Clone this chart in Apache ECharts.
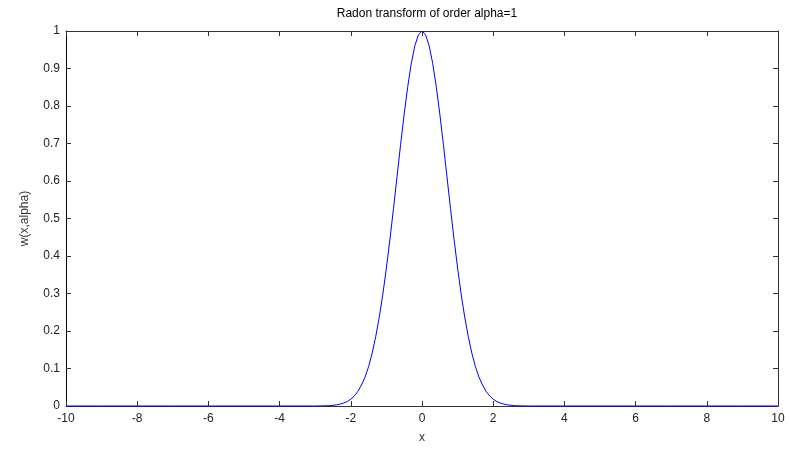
<!DOCTYPE html>
<html>
<head>
<meta charset="utf-8">
<script src="https://cdn.jsdelivr.net/npm/echarts@6/dist/echarts.min.js"></script>
<style>html,body{margin:0;padding:0;background:#fff;}#c{width:791px;height:449px;}</style>
</head>
<body>
<div id="c"></div>
<script>
// Curve samples
var xs = [-10, -9, -8, -7, -6, -5, -4, -3, -2.7, -2.6, -2.5, -2.4, -2.3, -2.2, -2.1, -2.0, -1.9, -1.8, -1.7, -1.6, -1.5, -1.4, -1.3, -1.2, -1.1, -1.0, -0.9, -0.8, -0.7, -0.6, -0.5, -0.4, -0.3, -0.2, -0.1, 0,
          0.1, 0.2, 0.3, 0.4, 0.5, 0.6, 0.7, 0.8, 0.9, 1.0, 1.1, 1.2, 1.3, 1.4, 1.5, 1.6, 1.7, 1.8, 1.9, 2.0, 2.1, 2.2, 2.3, 2.4, 2.5, 2.6, 2.7, 3, 4, 5, 6, 7, 8, 9, 10];
var ys = [0, 0, 0, 0, 0, 0, 0, 0, 0.0005, 0.001, 0.002, 0.003, 0.005, 0.008, 0.012, 0.018, 0.027, 0.039, 0.056, 0.077, 0.105, 0.141, 0.185, 0.237, 0.298, 0.368, 0.445, 0.527, 0.613, 0.698, 0.779, 0.852, 0.914, 0.961, 0.990, 1.0,
          0.990, 0.961, 0.914, 0.852, 0.779, 0.698, 0.613, 0.527, 0.445, 0.368, 0.298, 0.237, 0.185, 0.141, 0.105, 0.077, 0.056, 0.039, 0.027, 0.018, 0.012, 0.008, 0.005, 0.003, 0.002, 0.001, 0.0005, 0, 0, 0, 0, 0, 0, 0, 0];
var xTicks = [-10, 10, 2];   // min, max, step
var yTicks = [0, 1, 0.1];
var titleText = 'Radon transform of order alpha=1';
var xName = 'x';
var yName = 'w(x,alpha)';

var pts = xs.map(function (x, i) { return [x, ys[i]]; });
var font = 'Liberation Sans, Arial, sans-serif';
var axCol = '#333';
function fmtY(v) { return String(Math.round(v * 10) / 10); }

var chart = echarts.init(document.getElementById('c'), null, { renderer: 'canvas' });
chart.setOption({
  animation: false,
  backgroundColor: '#fff',
  title: { text: titleText, left: 422, top: 3, textAlign: 'center',
    textStyle: { fontFamily: font, fontSize: 12, fontWeight: 'normal', color: '#000' } },
  grid: { left: 66, right: 13, top: 31, bottom: 39, containLabel: false },
  xAxis: [
    { type: 'value', min: xTicks[0], max: xTicks[1], interval: xTicks[2], position: 'bottom',
      name: xName, nameLocation: 'middle', nameGap: 26,
      nameTextStyle: { fontFamily: font, fontSize: 12, color: '#333' },
      axisLine: { show: true, onZero: false, lineStyle: { color: axCol, width: 1 } },
      axisTick: { show: true, inside: true, length: 5, lineStyle: { color: axCol } },
      axisLabel: { fontFamily: font, fontSize: 12, color: '#222', margin: 7 },
      splitLine: { show: false } },
    { type: 'value', min: xTicks[0], max: xTicks[1], interval: xTicks[2], position: 'top',
      axisLine: { show: true, onZero: false, lineStyle: { color: axCol, width: 1 } },
      axisTick: { show: true, inside: true, length: 5, lineStyle: { color: axCol } },
      axisLabel: { show: false }, splitLine: { show: false } }
  ],
  yAxis: [
    { type: 'value', min: yTicks[0], max: yTicks[1], interval: yTicks[2], position: 'left',
      name: yName, nameLocation: 'middle', nameGap: 35, nameRotate: 90,
      nameTextStyle: { fontFamily: font, fontSize: 12, color: '#333' },
      axisLine: { show: true, onZero: false, lineStyle: { color: '#000', width: 1 } },
      axisTick: { show: true, inside: true, length: 5, lineStyle: { color: axCol } },
      axisLabel: { fontFamily: font, fontSize: 12, color: '#222', margin: 6, formatter: fmtY },
      splitLine: { show: false } },
    { type: 'value', min: yTicks[0], max: yTicks[1], interval: yTicks[2], position: 'right',
      axisLine: { show: true, onZero: false, lineStyle: { color: axCol, width: 1 } },
      axisTick: { show: true, inside: true, length: 5, lineStyle: { color: axCol } },
      axisLabel: { show: false }, splitLine: { show: false } }
  ],
  series: [{
    type: 'line', xAxisIndex: 0, yAxisIndex: 0, data: pts,
    showSymbol: false, symbol: 'none', clip: false, z: 10,
    lineStyle: { color: '#0000ff', width: 1 }
  }]
});
</script>
</body>
</html>
